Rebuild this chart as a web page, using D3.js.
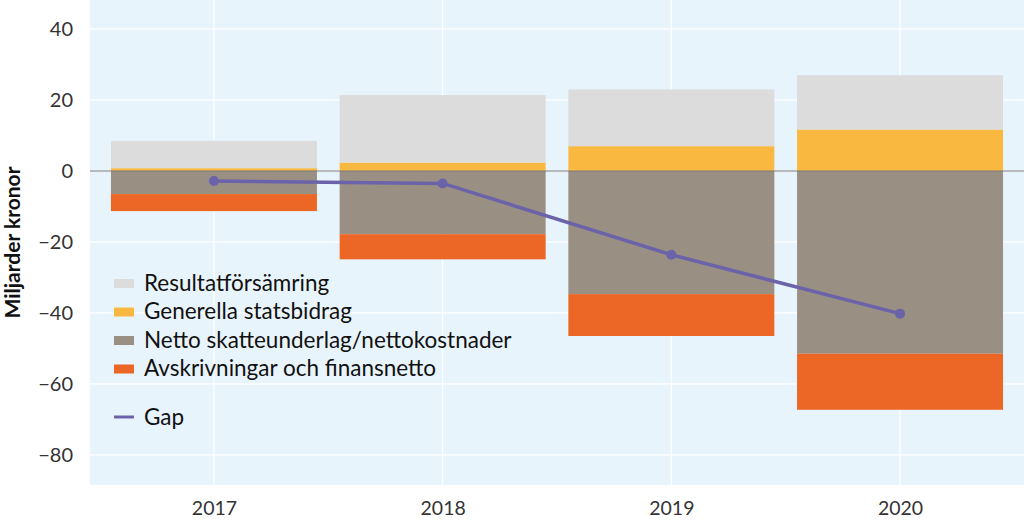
<!DOCTYPE html>
<html><head><meta charset="utf-8">
<script src="https://cdn.jsdelivr.net/npm/d3@7"></script>
<style>body{margin:0;background:#fff}svg{display:block}text{font-family:Lato,"Open Sans",sans-serif}</style>
</head><body><svg id="c" width="1024" height="521"></svg>
<script>
const years = ["2017","2018","2019","2020"];
const resultat = [7.7, 19.0, 16.0, 15.3];      // stacked on top of statsbidrag
const statsbidrag = [0.8, 2.4, 7.0, 11.7];
const netto = [-6.5, -17.8, -34.7, -51.5];
const avskrivningar = [-4.8, -7.1, -11.8, -15.8];
const gap = [-2.8, -3.5, -23.6, -40.2];
const yTicks = [-80, -60, -40, -20, 0, 20, 40];
const seriesNames = ["Resultatförsämring","Generella statsbidrag","Netto skatteunderlag/nettokostnader","Avskrivningar och finansnetto"];
const colors = ["#dcdcdc","#f9b940","#9a8f83","#ec6625"];
const gapColor = "#6b63a9";

const svg = d3.select("#c");
const L = 90, R = 1024, T = 0, B = 485;
const y = d3.scaleLinear().domain([-88.5, 48.2]).range([B, T]);
const x = d3.scalePoint().domain(years).range([L, R]).padding(0.542);
const bw = 206;

svg.append("rect").attr("x", L).attr("y", T).attr("width", R - L).attr("height", B - T).attr("fill", "#e8f4fc");
// grid
svg.append("g").selectAll("line").data(yTicks).join("line")
  .attr("x1", L).attr("x2", R).attr("y1", d => y(d)).attr("y2", d => y(d))
  .attr("stroke", "#fff").attr("stroke-width", 1.2);
svg.append("g").selectAll("line").data(years).join("line")
  .attr("x1", d => x(d)).attr("x2", d => x(d)).attr("y1", T).attr("y2", B)
  .attr("stroke", "#fff").attr("stroke-width", 1.2);

// bars
const segs = [];
years.forEach((yr, i) => {
  segs.push({yr, s: 1, y0: 0, y1: statsbidrag[i]});
  segs.push({yr, s: 0, y0: statsbidrag[i], y1: statsbidrag[i] + resultat[i]});
  segs.push({yr, s: 2, y0: 0, y1: netto[i]});
  segs.push({yr, s: 3, y0: netto[i], y1: netto[i] + avskrivningar[i]});
});
svg.append("g").selectAll("rect").data(segs).join("rect")
  .attr("x", d => x(d.yr) - bw / 2).attr("width", bw)
  .attr("y", d => y(Math.max(d.y0, d.y1))).attr("height", d => Math.abs(y(d.y0) - y(d.y1)))
  .attr("fill", d => colors[d.s]);

// zero line
svg.append("line").attr("x1", L).attr("x2", R).attr("y1", y(0)).attr("y2", y(0))
  .attr("stroke", "#7a7a7a").attr("stroke-width", 1.2);

// gap line
const line = d3.line().x((d, i) => x(years[i])).y(d => y(d));
svg.append("path").datum(gap).attr("d", line).attr("fill", "none")
  .attr("stroke", gapColor).attr("stroke-width", 3.5);
svg.append("g").selectAll("circle").data(gap).join("circle")
  .attr("cx", (d, i) => x(years[i])).attr("cy", d => y(d)).attr("r", 5).attr("fill", gapColor);

// y axis labels
const yAxis = d3.axisLeft(y).tickValues(yTicks).tickSize(0).tickPadding(17)
  .tickFormat(d => d < 0 ? "\u2212" + Math.abs(d) : d);
const gy = svg.append("g").attr("transform", `translate(${L},0)`).call(yAxis);
gy.select(".domain").remove();
gy.selectAll("text").attr("font-size", 20).attr("fill", "#333").style("font-family", "Lato");

// x axis labels
const xAxis = d3.axisBottom(x).tickSize(0).tickPadding(16);
const gx = svg.append("g").attr("transform", `translate(0,${B})`).call(xAxis);
gx.select(".domain").remove();
gx.selectAll("text").attr("font-size", 19.5).attr("fill", "#333").style("font-family", "Lato");

// y title
svg.append("text").attr("transform", `translate(20,${(T + B) / 2}) rotate(-90)`)
  .attr("text-anchor", "middle").attr("font-size", 21).attr("font-weight", 700).attr("fill", "#111")
  .text("Miljarder kronor");

// legend
const lg = svg.append("g");
const rows = [0, 1, 2, 3];
lg.selectAll("rect").data(rows).join("rect")
  .attr("x", 114).attr("y", d => 283 + d * 28.5 - 4).attr("width", 20).attr("height", 9)
  .attr("fill", d => colors[d]);
lg.selectAll("text.s").data(rows).join("text").attr("class", "s")
  .attr("x", 144).attr("y", d => 283 + d * 28.5).attr("dy", "0.35em")
  .attr("font-size", 22.5).attr("fill", "#111").text(d => seriesNames[d]);
lg.append("line").attr("x1", 114).attr("x2", 134).attr("y1", 417).attr("y2", 417)
  .attr("stroke", gapColor).attr("stroke-width", 3);
lg.append("text").attr("x", 144).attr("y", 417).attr("dy", "0.35em")
  .attr("font-size", 22.5).attr("fill", "#111").text("Gap");
</script></body></html>
